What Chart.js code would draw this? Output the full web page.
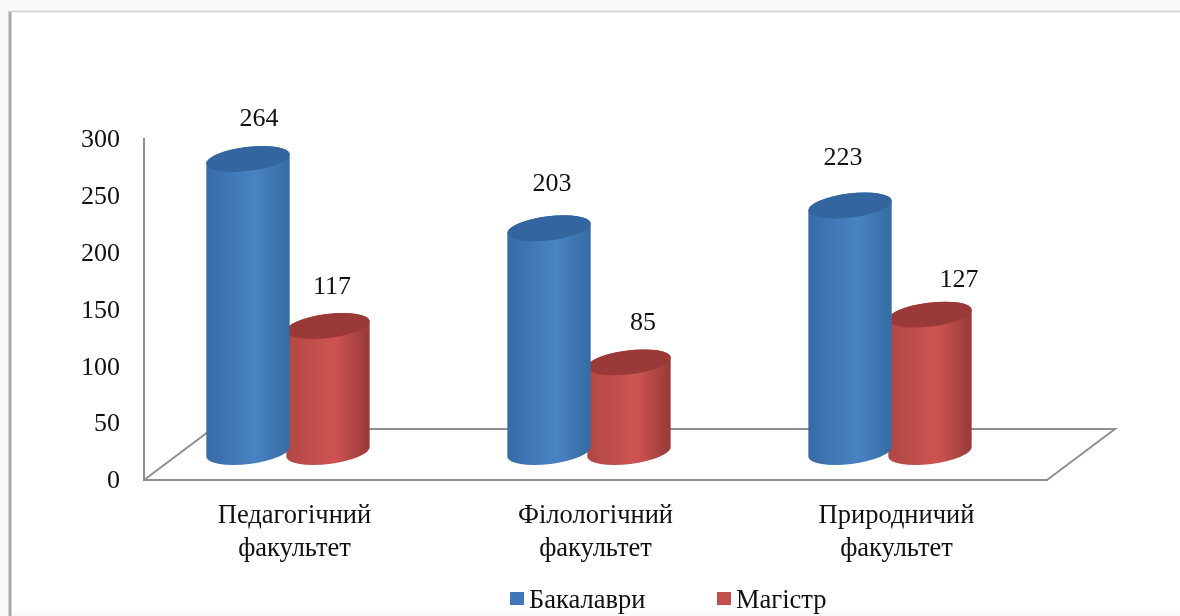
<!DOCTYPE html>
<html>
<head>
<meta charset="utf-8">
<style>
  html, body { margin: 0; padding: 0; background: #fff; }
  #wrap { width: 1180px; height: 616px; position: relative; overflow: hidden; }
  #chart1 { filter: blur(0.45px); }
</style>
<script src="https://cdn.jsdelivr.net/npm/chart.js@4"></script>
</head>
<body>
<div id="wrap"><canvas id="chart1" width="1180" height="616"></canvas></div>
<script>
const categories = [['Педагогічний', 'факультет'], ['Філологічний', 'факультет'], ['Природничий', 'факультет']];
const bachelors = [264, 203, 223];
const masters = [117, 85, 127];
const yTicks = [0, 50, 100, 150, 200, 250, 300];

// value labels were placed by hand in the original
const labelNudge = [
	[[11, -40], [3, -44], [-7, -47]],
	[[3, -39], [13, -39], [28, -34]]
];

const serif = '"Liberation Serif", "Times New Roman", serif';
const gridGrey = '#8f8f8f';

const shades = [
	{ left: '#366ba6', mid: '#4a83c3', right: '#346ba3', top: '#33659e' },
	{ left: '#b04744', mid: '#cf5451', right: '#963a38', top: '#9a3a38' }
];

const tilt = -7 * Math.PI / 180;

function drawCylinder(ctx, cx, yTop, yBase, hw, s) {
	const ry = 12;
	const g = ctx.createLinearGradient(cx - hw, 0, cx + hw, 0);
	g.addColorStop(0, s.left);
	g.addColorStop(0.58, s.mid);
	g.addColorStop(1, s.right);

	ctx.beginPath();
	ctx.ellipse(cx, yBase, hw, ry, tilt, 0, Math.PI);
	ctx.ellipse(cx, yTop, hw, ry, tilt, Math.PI, Math.PI * 2);
	ctx.closePath();
	ctx.fillStyle = g;
	ctx.fill();

	ctx.beginPath();
	ctx.ellipse(cx, yTop, hw, ry, tilt, 0, Math.PI * 2);
	ctx.fillStyle = s.top;
	ctx.fill();
}

const cylinders = {
	id: 'cylinders',
	beforeDatasetsDraw(chart) {
		// frame round the picture and the floor of the 3d box
		const { ctx, chartArea: a } = chart;
		ctx.save();
		ctx.fillStyle = '#fafafa';
		ctx.fillRect(0, 0, 1180, 11);
		ctx.fillRect(0, 612, 1180, 4);
		ctx.fillRect(0, 0, 8, 616);
		ctx.strokeStyle = '#a8a8a8';
		ctx.lineWidth = 3;
		ctx.beginPath();
		ctx.moveTo(10, 616);
		ctx.lineTo(10, 11);
		ctx.stroke();
		ctx.strokeStyle = '#cfcfcf';
		ctx.lineWidth = 1.5;
		ctx.beginPath();
		ctx.moveTo(9, 11.5);
		ctx.lineTo(1180, 11.5);
		ctx.stroke();

		ctx.strokeStyle = gridGrey;
		ctx.lineWidth = 2;
		ctx.beginPath();
		ctx.moveTo(a.left, a.bottom);
		ctx.lineTo(a.left + 68, a.bottom - 51);
		ctx.lineTo(a.right + 68, a.bottom - 51);
		ctx.lineTo(a.right, a.bottom);
		ctx.stroke();
		ctx.restore();
	},
	beforeDatasetDraw(chart, args) {
		const { ctx } = chart;
		const meta = chart.getDatasetMeta(args.index);
		ctx.save();
		meta.data.forEach(bar => {
			drawCylinder(ctx, bar.x - 6 - args.index, bar.y - 21, bar.base - 28, bar.width / 2 + 1.5, shades[args.index]);
		});
		ctx.restore();
		return false;
	},
	afterDatasetsDraw(chart) {
		const { ctx } = chart;
		ctx.save();
		ctx.fillStyle = '#111';
		ctx.font = '26px ' + serif;
		ctx.textAlign = 'center';
		ctx.textBaseline = 'middle';
		chart.data.datasets.forEach((ds, i) => {
			chart.getDatasetMeta(i).data.forEach((bar, j) => {
				const n = labelNudge[i][j];
				ctx.fillText(ds.data[j], bar.x - 6 + n[0], bar.y - 21 + n[1]);
			});
		});

		// legend, the gap between box and text is tighter than the built in one
		const legendX = [510, 717];
		ctx.textAlign = 'left';
		ctx.font = '26.5px ' + serif;
		chart.data.datasets.forEach((ds, i) => {
			ctx.fillStyle = ds.backgroundColor;
			ctx.fillRect(legendX[i], 592, 14, 13);
			ctx.fillStyle = '#111';
			ctx.fillText(ds.label, legendX[i] + 19, 601);
		});
		ctx.restore();
	}
};

new Chart(document.getElementById('chart1'), {
	type: 'bar',
	data: {
		labels: categories,
		datasets: [
			{ label: 'Бакалаври', data: bachelors, backgroundColor: '#4177b8' },
			{ label: 'Магістр', data: masters, backgroundColor: '#c0504d' }
		]
	},
	options: {
		responsive: false,
		animation: false,
		categoryPercentage: 0.538,
		barPercentage: 1,
		layout: { padding: { top: 139, right: 133, bottom: 0, left: 0 } },
		plugins: {
			legend: { display: false },
			tooltip: { enabled: false }
		},
		scales: {
			x: {
				grid: { display: false, drawTicks: false },
				border: { color: gridGrey, width: 2 },
				afterFit: s => { s.height = 136; },
				ticks: {
					autoSkip: false,
					maxRotation: 0,
					padding: 20,
					color: '#111',
					font: { family: serif, size: 26.5, lineHeight: 1.245 }
				}
			},
			y: {
				min: 0,
				max: 300,
				grid: { display: false, drawTicks: false },
				border: { color: gridGrey, width: 2 },
				afterFit: s => { s.width = 144; },
				afterBuildTicks: s => { s.ticks = yTicks.map(v => ({ value: v })); },
				ticks: {
					padding: 24,
					labelOffset: 1.5,
					color: '#111',
					font: { family: serif, size: 26 }
				}
			}
		}
	},
	plugins: [cylinders]
});
</script>
</body>
</html>
